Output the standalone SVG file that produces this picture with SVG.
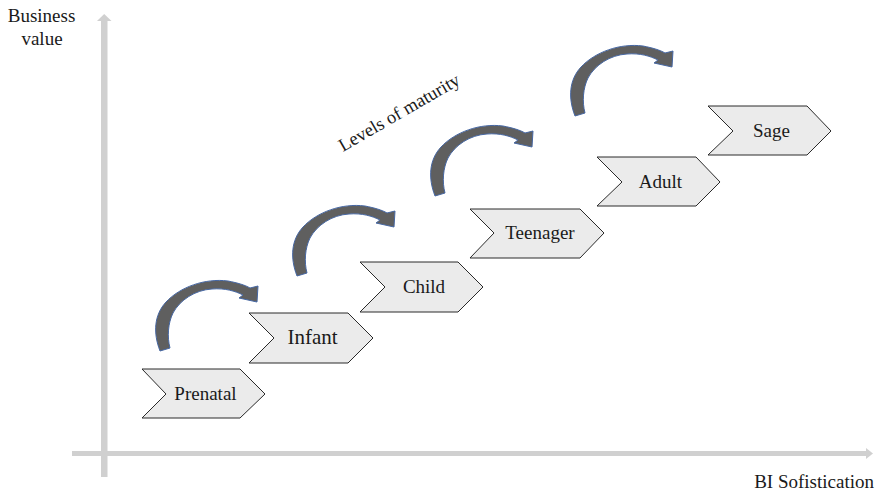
<svg xmlns="http://www.w3.org/2000/svg" width="880" height="492" viewBox="0 0 880 492">
<defs>
<style>
.lbl{font-family:"Liberation Serif","Times New Roman",serif;font-size:19px;fill:#1a1a1a}
.chev{fill:#ebebeb;stroke:#2a2a2a;stroke-width:1}
.ax{fill:#d0d0d0}
.carrow{fill:#5f5f5f;stroke:#4667a3;stroke-width:1;stroke-linejoin:round}
</style>
<path id="curl" d="M 10,76 C 3,58 4,40 16,27 C 30,12 55,3 78,6 C 88,8 95,10 100,13 L 108,11 L 107,27 L 89,23 L 93,20 C 85,16 75,13 62,14 C 45,15 30,25 23,38 C 18,48 17,62 20,73 Z"/>
</defs>
<rect width="880" height="492" fill="#ffffff"/>
<g id="axes">
<rect class="ax" x="101" y="20" width="6.5" height="457"/>
<polygon class="ax" points="97,21 104.2,14 111.5,21"/>
<rect class="ax" x="72" y="451" width="795" height="5"/>
<polygon class="ax" points="866,448 873,453.5 866,459"/>
<text class="lbl" x="41.5" y="22" text-anchor="middle">Business</text>
<text class="lbl" x="42" y="45" text-anchor="middle">value</text>
<text class="lbl" x="874" y="488" text-anchor="end">BI Sofistication</text>
</g>
<g id="connectors">
<use href="#curl" class="carrow" transform="translate(150,275)"/>
<use href="#curl" class="carrow" transform="translate(287,200)"/>
<use href="#curl" class="carrow" transform="translate(425,120)"/>
<use href="#curl" class="carrow" transform="translate(565,40)"/>
</g>
<g id="title">
<text class="lbl" x="343" y="152" transform="rotate(-30 343 152)" style="font-size:18.5px">Levels of maturity</text>
</g>
<g id="prenatal">
<polygon class="chev" points="142,369 240,369 265,394 240,418 142,418 166,394"/>
<text class="lbl" x="205.5" y="400" text-anchor="middle">Prenatal</text>
</g>
<g id="infant">
<polygon class="chev" points="249,313 348,313 373,338 348,363 249,363 274,338"/>
<text class="lbl" x="312.5" y="344" text-anchor="middle" style="font-size:21px">Infant</text>
</g>
<g id="child">
<polygon class="chev" points="360,262 458,262 483,287 458,312 360,312 385,287"/>
<text class="lbl" x="424" y="293" text-anchor="middle">Child</text>
</g>
<g id="teenager">
<polygon class="chev" points="470,209 580,209 604,233 580,258 470,258 494,233"/>
<text class="lbl" x="540" y="239" text-anchor="middle">Teenager</text>
</g>
<g id="adult">
<polygon class="chev" points="597,157 696,157 720,182 696,206 597,206 622,182"/>
<text class="lbl" x="660.5" y="188" text-anchor="middle">Adult</text>
</g>
<g id="sage">
<polygon class="chev" points="708,106 807,106 831,131 807,155 708,155 733,131"/>
<text class="lbl" x="771.5" y="137" text-anchor="middle">Sage</text>
</g>
</svg>
